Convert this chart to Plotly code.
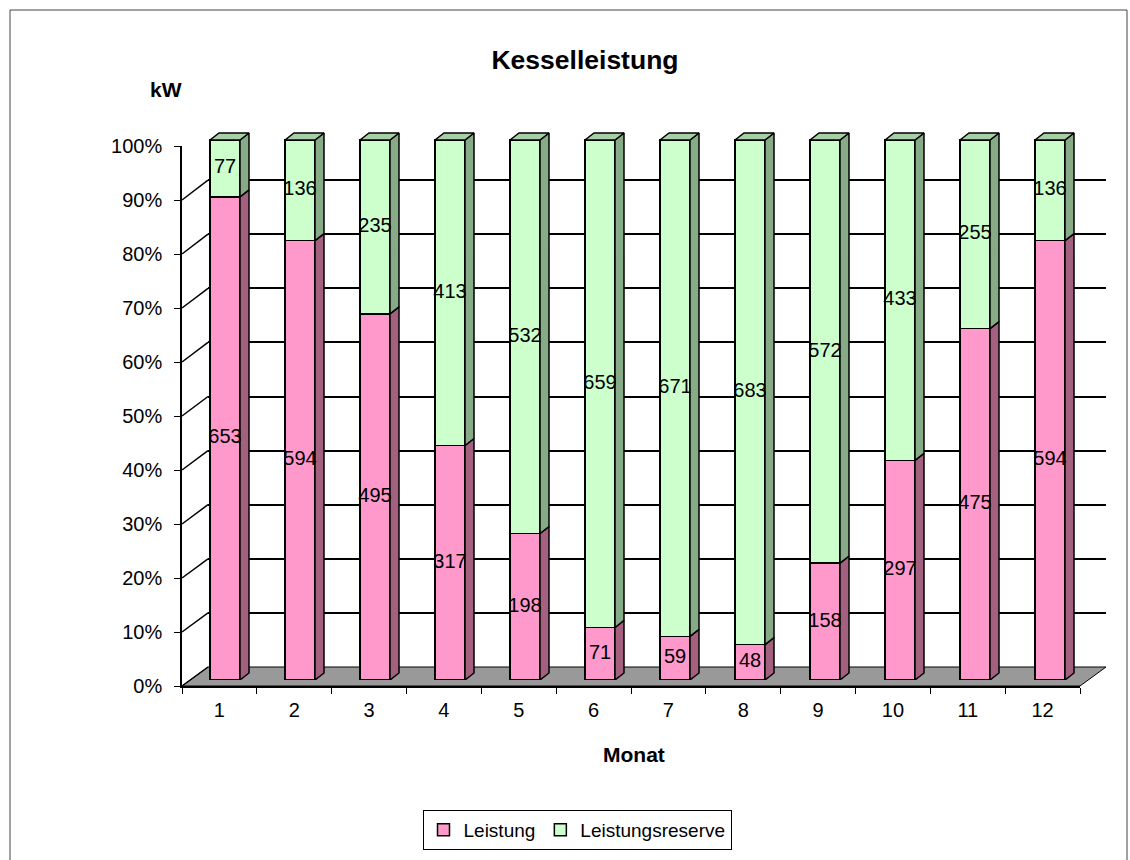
import plotly.graph_objects as go

# Monthly boiler output and remaining reserve (kW)
MONTHS = ["1", "2", "3", "4", "5", "6", "7", "8", "9", "10", "11", "12"]
LEISTUNG = [653, 594, 495, 317, 198, 71, 59, 48, 158, 297, 475, 594]
RESERVE = [77, 136, 235, 413, 532, 659, 671, 683, 572, 433, 255, 136]
PCT_TICKS = list(range(0, 101, 10))

W, H = 1130, 860
FONT = "Liberation Sans, Arial, sans-serif"

PINK, PINK_SIDE = "#FF99CC", "#A3607F"
GREEN, GREEN_SIDE, GREEN_TOP = "#CCFFCC", "#87AB87", "#A6CFA6"


def fx(px):
    return px / W


def fy(py):
    return 1 - py / H


month_num = [int(m) for m in MONTHS]
totals = [a + b for a, b in zip(LEISTUNG, RESERVE)]
pct_l = [a / t * 100 for a, t in zip(LEISTUNG, totals)]

HALF = 0.2      # half bar width (category units)
DX, DY = 0.12, 1.3  # depth offset of the 3-D faces


def side_faces(segments):
    xs, ys = [], []
    for m, (y0, y1) in zip(month_num, segments):
        xr = m + HALF
        xs += [xr, xr + DX, xr + DX, xr, xr, None]
        ys += [y0, y0 + DY, y1 + DY, y1, y0, None]
    return xs, ys


seg_l = [(0, p) for p in pct_l]
seg_r = [(p, 100) for p in pct_l]

fig = go.Figure()

# back wall (gridlines only)
fig.add_trace(go.Scatter(x=[None], y=[None], xaxis="x", yaxis="y",
                         showlegend=False, hoverinfo="skip"))

# front faces
fig.add_trace(go.Bar(x=month_num, y=LEISTUNG, name="Leistung", width=2 * HALF,
                     marker=dict(color=PINK, line=dict(color="black", width=1.5)),
                     xaxis="x2", yaxis="y2", hoverinfo="skip"))
fig.add_trace(go.Bar(x=month_num, y=RESERVE, name="Leistungsreserve", width=2 * HALF,
                     marker=dict(color=GREEN, line=dict(color="black", width=1.5)),
                     xaxis="x2", yaxis="y2", hoverinfo="skip"))

# side faces
for segs, col in ((seg_l, PINK_SIDE), (seg_r, GREEN_SIDE)):
    xs, ys = side_faces(segs)
    fig.add_trace(go.Scatter(x=xs, y=ys, mode="lines", fill="toself", fillcolor=col,
                             line=dict(color="black", width=1.5), xaxis="x2", yaxis="y2",
                             showlegend=False, hoverinfo="skip"))

# top faces
tx, ty = [], []
for m in month_num:
    tx += [m - HALF, m + HALF, m + HALF + DX, m - HALF + DX, m - HALF, None]
    ty += [100, 100, 100 + DY, 100 + DY, 100, None]
fig.add_trace(go.Scatter(x=tx, y=ty, mode="lines", fill="toself", fillcolor=GREEN_TOP,
                         line=dict(color="black", width=1.5), xaxis="x2", yaxis="y2",
                         showlegend=False, hoverinfo="skip"))

# value labels
lab_x, lab_y, lab_t = [], [], []
for m, (a, b), (l0, l1), (r0, r1) in zip(month_num, zip(LEISTUNG, RESERVE), seg_l, seg_r):
    lab_x += [m, m]
    lab_y += [(l0 + l1) / 2, (r0 + r1) / 2]
    lab_t += [str(a), str(b)]
fig.add_trace(go.Scatter(x=lab_x, y=lab_y, text=lab_t, mode="text",
                         textfont=dict(family=FONT, size=20, color="black"),
                         xaxis="x2", yaxis="y2", showlegend=False, hoverinfo="skip",
                         cliponaxis=False))

# front axes carrying the tick labels
fig.add_trace(go.Scatter(x=MONTHS, y=[None] * len(MONTHS), mode="markers",
                         xaxis="x3", yaxis="y3", showlegend=False, hoverinfo="skip"))

shapes = []
# floor
shapes.append(dict(type="path", xref="paper", yref="paper", layer="below",
                   path=f"M{fx(182)},{fy(686)} L{fx(1080)},{fy(686)} L{fx(1106)},{fy(667)} "
                        f"L{fx(208)},{fy(667)} Z",
                   fillcolor="#999999", line=dict(color="black", width=1)))
# left wall edges linking axis ticks to back gridlines
for p in PCT_TICKS[:-1]:
    shapes.append(dict(type="line", xref="paper", yref="paper", layer="below",
                       x0=fx(182), y0=fy(686 - 5.40 * p), x1=fx(208), y1=fy(667 - 5.41 * p),
                       line=dict(color="black", width=1.5)))
# chart frame
shapes.append(dict(type="rect", xref="paper", yref="paper", layer="below",
                   x0=fx(10), x1=fx(1127), y0=-0.1, y1=fy(10),
                   line=dict(color="#444444", width=1)))

fig.update_layout(
    width=W, height=H,
    margin=dict(l=0, r=0, t=0, b=0, pad=0, autoexpand=False),
    paper_bgcolor="white", plot_bgcolor="rgba(0,0,0,0)",
    barmode="stack", barnorm="percent",
    font=dict(family=FONT, color="black"),
    title=dict(text="<b>Kesselleistung</b>", x=fx(585), y=fy(60), xref="paper", yref="paper",
               xanchor="center", yanchor="middle", automargin=False,
               font=dict(family=FONT, size=26.5, color="black")),
    xaxis=dict(domain=[fx(208), fx(1106)], range=[0, 1], visible=False, anchor="y",
               automargin=False),
    yaxis=dict(domain=[fy(667), fy(126)], range=[0, 100], tickmode="array",
               tickvals=PCT_TICKS, showgrid=True, gridcolor="black", gridwidth=1.5,
               showticklabels=False, ticks="", zeroline=False, showline=False, anchor="x",
               automargin=False),
    xaxis2=dict(domain=[fx(187.5), fx(1110)], range=[0.5, 12.8], visible=False, anchor="y2",
                automargin=False),
    yaxis2=dict(domain=[fy(680), fy(113)], range=[0, 105], visible=False, anchor="x2",
                automargin=False),
    xaxis3=dict(type="category", domain=[fx(182), fx(1080)], range=[-0.5, 11.5],
                anchor="y3", tickson="boundaries", ticks="outside", ticklen=6,
                tickcolor="black", tickwidth=1, showline=True, linecolor="black", linewidth=2,
                showgrid=False, automargin=False, ticklabelstandoff=5,
                tickfont=dict(family=FONT, size=20, color="black")),
    yaxis3=dict(domain=[fy(686), fy(146)], range=[0, 100], anchor="x3", tickmode="array",
                tickvals=PCT_TICKS, ticktext=[f"{v}%" for v in PCT_TICKS],
                ticks="outside", ticklen=6, tickcolor="black", tickwidth=1,
                showline=True, linecolor="black", linewidth=1.5, showgrid=False,
                zeroline=False, ticklabelstandoff=8, automargin=False,
                tickfont=dict(family=FONT, size=20, color="black")),
    legend=dict(orientation="h", x=fx(577), xanchor="center", y=fy(810), yanchor="top",
                traceorder="normal", bordercolor="black", borderwidth=1, bgcolor="white",
                font=dict(family=FONT, size=19, color="black")),
    annotations=[
        dict(text="<b>kW</b>", x=fx(165.5), y=fy(90), xref="paper", yref="paper",
             xanchor="center", yanchor="middle", showarrow=False,
             font=dict(family=FONT, size=21, color="black")),
        dict(text="<b>Monat</b>", x=fx(634), y=fy(754), xref="paper", yref="paper",
             xanchor="center", yanchor="middle", showarrow=False,
             font=dict(family=FONT, size=21, color="black")),
    ],
    shapes=shapes,
)

fig.write_html("out.html")
